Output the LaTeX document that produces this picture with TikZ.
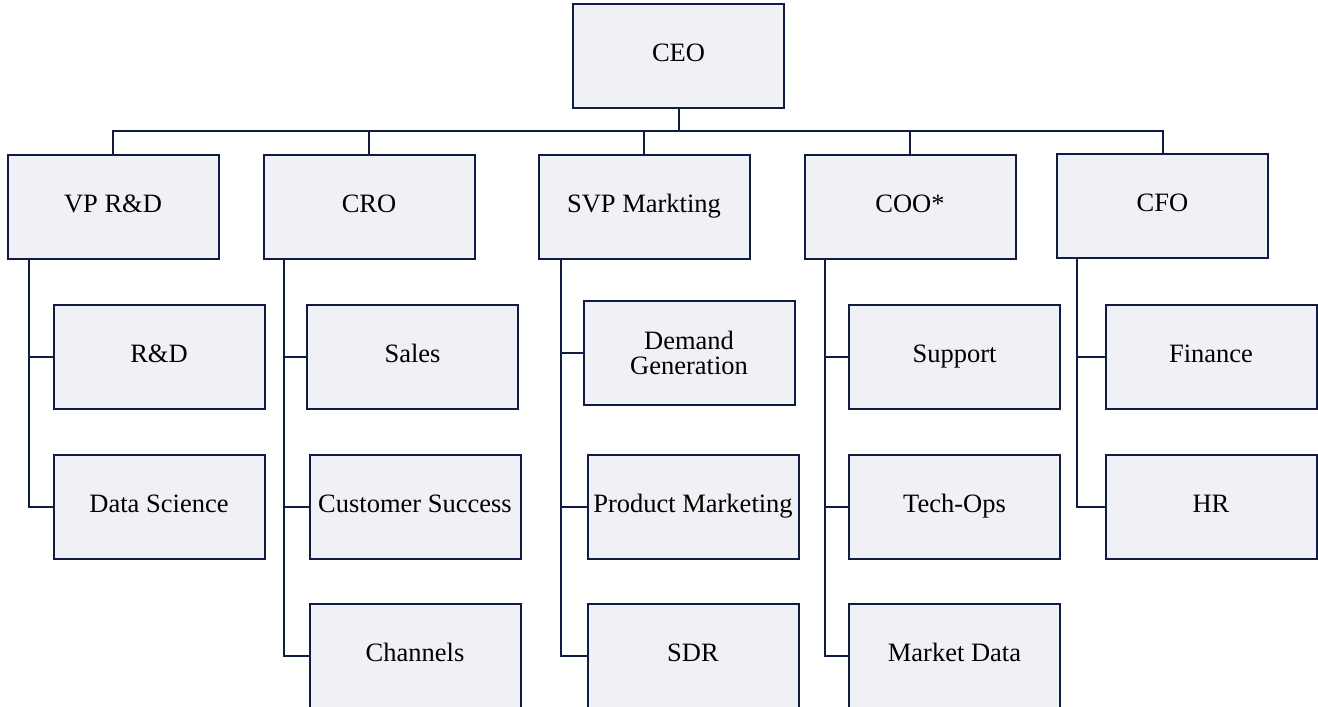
\documentclass[tikz,border=0pt]{standalone}
\usepackage{fontspec}
\setmainfont{Liberation Serif}
\begin{document}
\begin{tikzpicture}[x=1pt,y=-1pt,
  unit/.style={rectangle, draw=navy, fill=boxfill, line width=2pt,
    minimum width=211pt, minimum height=104pt, inner sep=0pt,
    text height=18pt, text depth=7pt,
    font=\fontsize{26.5}{25}\selectfont, text=black, align=center},
  twoline/.style={text height={}, text depth={}},
  link/.style={draw=navy, line width=2pt}]
\definecolor{navy}{HTML}{101C44}
\definecolor{boxfill}{HTML}{F0F1F5}
\useasboundingbox (0,0) rectangle (1318,707);
\clip (0,0) rectangle (1318,707);
% top of the chart
\node[unit] (ceo) at (678.5,56) {CEO};
\node[unit] (vp)  at (113,206.5) {VP R\&D};
\node[unit] (cro) at (369,206.5) {CRO};
\node[unit] (svp) at (644,206.5) {SVP Markting};
\node[unit] (coo) at (910,206.5) {COO*};
\node[unit] (cfo) at (1162.5,206) {CFO};
% departments
\node[unit] (rnd)  at (159,356.5) {R\&D};
\node[unit] (ds)   at (159,506.5) {Data Science};
\node[unit] (sal)  at (412.5,356.5) {Sales};
\node[unit] (cs)   at (415,506.5) {Customer Success};
\node[unit] (chn)  at (415,656) {Channels};
\node[unit,twoline] (dg) at (689,352.5) {Demand\\Generation};
\node[unit] (pm)   at (693,506.5) {Product Marketing};
\node[unit] (sdr)  at (693,656) {SDR};
\node[unit] (sup)  at (954.5,356.5) {Support};
\node[unit] (tops) at (954.5,506.5) {Tech-Ops};
\node[unit] (md)   at (954.5,656) {Market Data};
\node[unit] (fin)  at (1211,356.5) {Finance};
\node[unit] (hr)   at (1211,506.5) {HR};
% CEO bus
\coordinate (bus) at (0,131);
\foreach \t in {vp,cro,svp,coo,cfo}
  \draw[link] (ceo.south) -- (ceo.south |- bus) -| (\t.north);
% department spines
\coordinate (vpx)  at ([xshift=22pt]vp.south west);
\coordinate (crox) at ([xshift=21pt]cro.south west);
\coordinate (svpx) at ([xshift=23pt]svp.south west);
\coordinate (coox) at ([xshift=21pt]coo.south west);
\coordinate (cfox) at ([xshift=21pt]cfo.south west);
\draw[link] (vpx) |- (ds.west);
\draw[link] (vpx |- rnd.west) -- (rnd.west);
\draw[link] (crox) |- (chn.west);
\draw[link] (crox |- sal.west) -- (sal.west);
\draw[link] (crox |- cs.west) -- (cs.west);
\draw[link] (svpx) |- (sdr.west);
\draw[link] (svpx |- dg.west) -- (dg.west);
\draw[link] (svpx |- pm.west) -- (pm.west);
\draw[link] (coox) |- (md.west);
\draw[link] (coox |- sup.west) -- (sup.west);
\draw[link] (coox |- tops.west) -- (tops.west);
\draw[link] (cfox) |- (hr.west);
\draw[link] (cfox |- fin.west) -- (fin.west);
\end{tikzpicture}
\end{document}
